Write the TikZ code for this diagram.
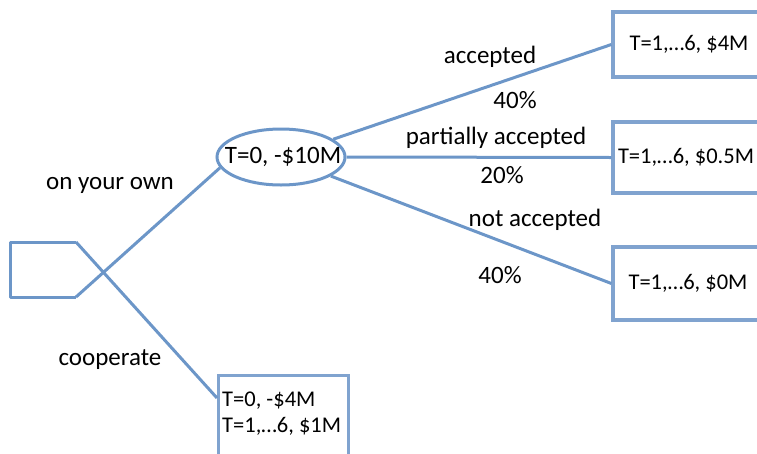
\documentclass[tikz,border=0pt]{standalone}
\usepackage{fontspec}
\setmainfont{Carlito}
\usetikzlibrary{shapes.geometric,shadows}
\definecolor{branch}{RGB}{108,150,200}
\definecolor{boxline}{RGB}{128,163,207}
\tikzset{
  branchline/.style={draw=branch, line width=3pt},
  outcome/.style={draw=boxline, line width=3.2pt, fill=white, inner sep=0pt,
    drop shadow={shadow xshift=1.5pt, shadow yshift=-1.5pt, opacity=0.25},
    font=\fontsize{22.5}{25}\selectfont},
  lbl/.style={font=\fontsize{25}{28}\selectfont, inner sep=0pt},
}
\begin{document}
\begin{tikzpicture}[x=1pt,y=-1pt]
\useasboundingbox (0,0) rectangle (757,453);
\clip (0,0) rectangle (757,453);
% chance node
\node[ellipse, draw=branch, line width=3pt, minimum width=128pt, minimum height=56pt,
  inner sep=0pt] (ell) at (281,157) {};
\node[lbl] (et) at (283,157) {T=0, -\$10M};
% outcome boxes
\node[outcome, minimum width=152pt, minimum height=65pt] (b1) at (689,44.5) {};
\node[outcome, minimum width=152pt, minimum height=71pt] (b2) at (689,157.5) {};
\node[outcome, minimum width=152pt, minimum height=73pt] (b3) at (689,283.5) {};
\node[lbl, font=\fontsize{22.5}{25}\selectfont] (t1) at (689,44.5) {T=1,…6, \$4M};
\node[lbl, font=\fontsize{22.5}{25}\selectfont] (t2) at (686,157.5) {T=1,…6, \$0.5M};
\node[lbl, font=\fontsize{22.5}{25}\selectfont] (t3) at (688,283.5) {T=1,…6, \$0M};
\node[outcome, anchor=north west, minimum width=130pt, minimum height=92pt] (bot) at (217,374) {};
\node[font=\fontsize{22.5}{26}\selectfont, anchor=north west, inner sep=0pt, align=left] (bt) at (222,392)
  {T=0, -\$4M\\T=1,…6, \$1M};
% decision node
\coordinate (pa) at (76,242);
\coordinate (pb) at (76,297);
\draw[branchline, line join=round] (pa) -- (10,242) -- (10,297) -- (pb);
\draw[branchline] (pb) -- (ell.190);
\draw[branchline] (pa) -- ([yshift=-24pt]bot.north west);
% branches from chance node
\draw[branchline] (ell) -- (b1.west);
\draw[branchline] (ell.east) -- (b2.west);
\draw[branchline] (ell) -- (b3.west);
% labels
\node[lbl] (l1) at (490,57) {accepted};
\node[lbl] (l2) at (515,100) {40\%};
\node[lbl] (l3) at (496,138) {partially accepted};
\node[lbl] (l4) at (502,175) {20\%};
\node[lbl] (l5) at (535,220) {not accepted};
\node[lbl] (l6) at (500,275) {40\%};
\node[lbl] (l7) at (110,185) {on your own};
\node[lbl] (l8) at (110,360) {cooperate};
\end{tikzpicture}
\end{document}
